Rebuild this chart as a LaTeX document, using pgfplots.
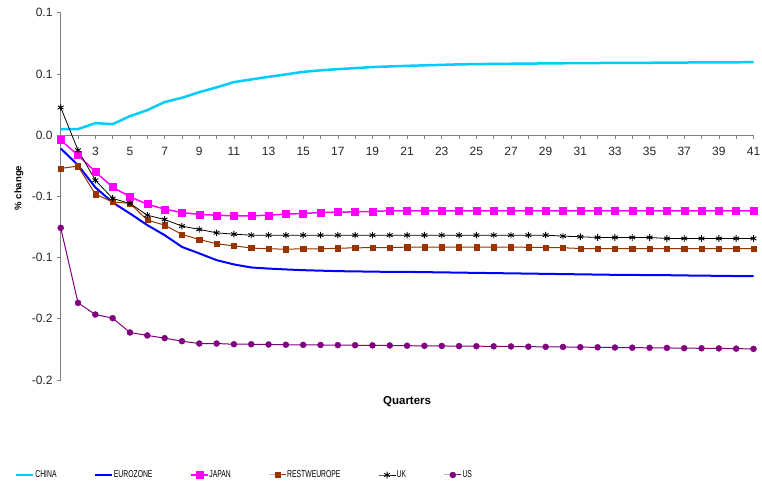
\documentclass[border=0pt]{standalone}
\usepackage{fontspec}
\setmainfont{Liberation Sans}
\newfontfamily\legendfont[FakeStretch=0.68]{Liberation Sans}
\usepackage{pgfplots}
\usepackage{pgfplotstable}
\pgfplotsset{compat=1.18}

\definecolor{cchina}{RGB}{0,204,255}
\definecolor{ceuro}{RGB}{0,0,255}
\definecolor{cjapan}{RGB}{255,0,255}
\definecolor{crest}{RGB}{153,51,0}
\definecolor{cus}{RGB}{128,0,128}
\definecolor{caxis}{RGB}{128,128,128}

\pgfplotstableread{
q china euro japan rest uk us
1 0.0049 -0.0109 -0.0041 -0.0272 0.0226 -0.0757
2 0.0049 -0.0245 -0.0163 -0.0253 -0.0123 -0.1370
3 0.0098 -0.0427 -0.0300 -0.0482 -0.0368 -0.1465
4 0.0090 -0.0550 -0.0425 -0.0546 -0.0517 -0.1495
5 0.0155 -0.0640 -0.0504 -0.0558 -0.0558 -0.1612
6 0.0204 -0.0735 -0.0564 -0.0694 -0.0654 -0.1636
7 0.0270 -0.0817 -0.0605 -0.0735 -0.0689 -0.1658
8 0.0305 -0.0913 -0.0632 -0.0811 -0.0743 -0.1683
9 0.0351 -0.0966 -0.0648 -0.0852 -0.0770 -0.1702
10 0.0390 -0.1021 -0.0654 -0.0888 -0.0798 -0.1702
11 0.0433 -0.1056 -0.0659 -0.0904 -0.0809 -0.1708
12 0.0455 -0.1081 -0.0659 -0.0922 -0.0817 -0.1708
13 0.0476 -0.1090 -0.0654 -0.0929 -0.0817 -0.1710
14 0.0496 -0.1097 -0.0645 -0.0931 -0.0817 -0.1712
15 0.0517 -0.1103 -0.0640 -0.0929 -0.0817 -0.1713
16 0.0529 -0.1107 -0.0632 -0.0929 -0.0817 -0.1714
17 0.0539 -0.1111 -0.0629 -0.0923 -0.0817 -0.1715
18 0.0547 -0.1113 -0.0627 -0.0921 -0.0817 -0.1716
19 0.0556 -0.1115 -0.0623 -0.0918 -0.0817 -0.1717
20 0.0561 -0.1117 -0.0618 -0.0918 -0.0817 -0.1718
21 0.0566 -0.1117 -0.0618 -0.0915 -0.0817 -0.1720
22 0.0570 -0.1119 -0.0618 -0.0915 -0.0817 -0.1721
23 0.0574 -0.1121 -0.0618 -0.0915 -0.0817 -0.1722
24 0.0578 -0.1123 -0.0618 -0.0915 -0.0817 -0.1723
25 0.0580 -0.1125 -0.0618 -0.0915 -0.0817 -0.1724
26 0.0582 -0.1127 -0.0618 -0.0915 -0.0817 -0.1725
27 0.0583 -0.1129 -0.0618 -0.0915 -0.0817 -0.1726
28 0.0584 -0.1131 -0.0618 -0.0916 -0.0817 -0.1728
29 0.0586 -0.1133 -0.0618 -0.0917 -0.0817 -0.1729
30 0.0587 -0.1135 -0.0618 -0.0920 -0.0825 -0.1730
31 0.0588 -0.1137 -0.0618 -0.0926 -0.0830 -0.1732
32 0.0589 -0.1139 -0.0618 -0.0926 -0.0836 -0.1733
33 0.0590 -0.1141 -0.0618 -0.0926 -0.0836 -0.1735
34 0.0590 -0.1142 -0.0618 -0.0926 -0.0836 -0.1736
35 0.0591 -0.1143 -0.0618 -0.0926 -0.0836 -0.1737
36 0.0592 -0.1144 -0.0618 -0.0926 -0.0844 -0.1738
37 0.0593 -0.1146 -0.0618 -0.0926 -0.0844 -0.1740
38 0.0594 -0.1148 -0.0618 -0.0926 -0.0844 -0.1741
39 0.0595 -0.1149 -0.0618 -0.0926 -0.0844 -0.1742
40 0.0595 -0.1151 -0.0618 -0.0926 -0.0844 -0.1744
41 0.0596 -0.1152 -0.0618 -0.0926 -0.0844 -0.1746
}\datatable

\begin{document}
\begin{tikzpicture}
\useasboundingbox (0,0) rectangle (762pt,489pt);
\begin{axis}[
  at={(60.7pt,109pt)}, anchor=south west,
  scale only axis, width=692.8pt, height=367.3pt,
  xmin=1, xmax=41, ymin=-0.2, ymax=0.1,
  clip=false,
  axis y line*=left, axis x line*=middle,
  axis line style={caxis, line width=0.8pt},
  xtick={1,3,...,41}, minor xtick={2,4,...,40},
  ytick={-0.2,-0.15,-0.1,-0.05,0,0.05,0.1},
  yticklabels={-0.2,-0.2,-0.1,-0.1,0.0,0.1,0.1},
  tick align=outside,
  major tick length=4pt, minor tick length=4pt,
  tick style={caxis, line width=0.6pt},
  /pgf/number format/assume math mode=true,
  tick label style={font=\fontsize{12}{14}\selectfont, text=black!85},
  xticklabel style={inner sep=0pt, yshift=-8pt},
  yticklabel style={inner sep=0pt, xshift=-4pt},
  every axis x label/.style={at={(axis description cs:0.5,0)}, anchor=center, yshift=-22pt, font=\bfseries\fontsize{11.5}{13}\selectfont},
  every axis y label/.style={at={(axis description cs:0,0.5227)}, xshift=-41.7pt, rotate=90, anchor=center, font=\bfseries\fontsize{9.5}{11}\selectfont},
  xlabel={Quarters},
  ylabel={\% change},
  legend columns=6,
  legend image code/.code={\draw[mark repeat=2,mark phase=2,#1] plot coordinates {(0pt,0pt) (8.5pt,0pt) (17pt,0pt)};},
  legend style={at={(axis description cs:0,0)}, anchor=west, xshift=-45.7pt, yshift=-95pt,
    draw=none, fill=none, inner sep=0pt, column sep=0pt,
    nodes={inner sep=0.7pt, anchor=west},
    font=\legendfont\fontsize{10}{11}\selectfont,
    /tikz/every even column/.append style={column sep=37pt}},
]
\addplot[cchina, line width=2.5pt, no marks] table[x=q, y=china] {\datatable};
\addlegendentry{CHINA}
\addplot[ceuro, line width=2pt, no marks] table[x=q, y=euro] {\datatable};
\addlegendentry{EUROZONE}
\addplot[cjapan, line width=1.5pt, mark=square*, mark size=3.5pt, mark options={solid, fill=cjapan, line width=0.4pt}] table[x=q, y=japan] {\datatable};
\addlegendentry{JAPAN}
\addplot[crest, line width=1pt, mark=square*, mark size=2.6pt, mark options={solid, fill=crest, line width=0.4pt}] table[x=q, y=rest] {\datatable};
\addlegendentry{RESTWEUROPE}
\addplot[black, line width=0.8pt, mark=asterisk, mark size=3.3pt, mark options={solid, line width=0.9pt}] table[x=q, y=uk] {\datatable};
\addlegendentry{UK}
\addplot[cus, line width=1pt, mark=*, mark size=3pt, mark options={solid, fill=cus, line width=0.4pt}] table[x=q, y=us] {\datatable};
\addlegendentry{US}
\end{axis}
\end{tikzpicture}
\end{document}
